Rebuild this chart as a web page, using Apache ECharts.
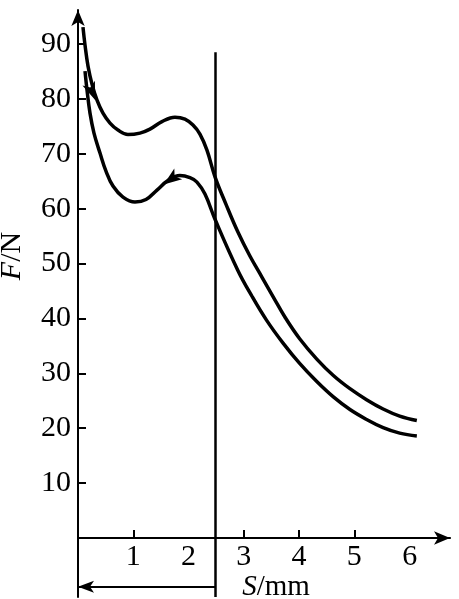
<!DOCTYPE html>
<html>
<head>
<meta charset="utf-8">
<style>html,body{margin:0;padding:0;background:#fff}#c{width:459px;height:599px}</style>
<script src="https://cdn.jsdelivr.net/npm/echarts@6/dist/echarts.min.js"></script>
</head>
<body>
<div id="c"></div>
<script>
// Upper (loading) curve: [S mm, F N]
var upperCurve = [[0.090,93.08],[0.127,89.80],[0.181,85.97],[0.253,82.70],[0.344,79.78],[0.452,77.41],[0.579,75.59],[0.723,74.32],[0.904,73.50],[1.121,73.77],[1.302,74.50],[1.519,75.87],[1.754,76.68],[1.935,76.32],[2.080,75.23],[2.206,73.59],[2.333,70.67],[2.477,65.85],[2.676,60.84],[2.893,55.74],[3.110,51.37],[3.327,47.54],[3.544,43.72],[3.743,40.26],[4.01,36.3],[4.32,32.6],[4.62,29.6],[4.92,27.2],[5.22,25.2],[5.52,23.5],[5.82,22.2],[6.13,21.4]];
// Lower (return) curve
var lowerCurve = [[0.127,85.06],[0.163,81.60],[0.217,77.41],[0.289,73.77],[0.398,70.13],[0.506,66.85],[0.633,64.12],[0.814,62.11],[1.031,61.20],[1.230,61.66],[1.429,63.39],[1.627,65.12],[1.844,66.03],[2.025,65.66],[2.152,64.85],[2.297,62.66],[2.477,58.11],[2.89,48.8],[3.15,44.0],[3.41,39.7],[3.71,35.5],[4.01,31.8],[4.32,28.5],[4.62,25.7],[4.92,23.4],[5.22,21.6],[5.52,20.1],[5.82,19.1],[6.13,18.6]];
// Direction arrows on curves: [S, F]
var upperArrowAt = [0.31, 79.8];
var lowerArrowAt = [1.55, 64.4];
// Divider line position and extent
var dividerS = 2.48;
var dividerTop = 88.5;
var dividerBottom = -10.75;
var travelArrowF = -8.9;
// Tick labels
var xLabels = [1,2,3,4,5,6];
var xTicks = [1,3,4,5];
var yLabels = [10,20,30,40,50,60,70,80,90];

var serif = '"Liberation Serif", "DejaVu Serif", serif';
var chart = echarts.init(document.getElementById('c'));
chart.setOption({
  animation: false,
  backgroundColor: '#fff',
  grid: {left: 78, top: 10, right: 9, bottom: 2, outerBoundsMode: 'none', containLabel: false},
  xAxis: {
    type: 'value', min: 0, max: 6.73, offset: -59,
    axisLine: {show: true, onZero: false, symbol: ['none','arrow'], symbolSize: [10,16], lineStyle: {color: '#000', width: 2.2}},
    axisTick: {show: true, inside: true, length: 8, customValues: xTicks, lineStyle: {color: '#000', width: 2}},
    axisLabel: {show: true, customValues: xLabels, color: '#000', fontFamily: serif, fontSize: 30, margin: 4},
    splitLine: {show: false}
  },
  yAxis: {
    type: 'value', min: dividerBottom, max: 96.2,
    axisLine: {show: true, onZero: false, symbol: ['none','arrow'], symbolSize: [10,16], lineStyle: {color: '#000', width: 2}},
    axisTick: {show: true, inside: true, length: 8, customValues: yLabels, lineStyle: {color: '#000', width: 2}},
    axisLabel: {show: true, customValues: yLabels, color: '#000', fontFamily: serif, fontSize: 30, margin: 7},
    splitLine: {show: false}
  },
  graphic: [
    {type: 'text', x: 12, y: 256, rotation: Math.PI/2,
     style: {text: '{i|F}/N', rich: {i: {fontStyle: 'italic', fontFamily: serif, fontSize: 30, fill: '#000'}}, fontFamily: serif, fontSize: 30, fill: '#000', align: 'center', verticalAlign: 'middle'}},
    {type: 'text', x: 276, y: 587,
     style: {text: '{i|S}/mm', rich: {i: {fontStyle: 'italic', fontFamily: serif, fontSize: 29, fill: '#000'}}, fontFamily: serif, fontSize: 29, fill: '#000', align: 'center', verticalAlign: 'middle'}}
  ],
  series: [
    {
      type: 'line', data: upperCurve, smooth: 0.4, symbol: 'none',
      lineStyle: {color: '#000', width: 3.5}, z: 3,
      markPoint: {
        symbol: 'arrow', symbolSize: [10,18], symbolRotate: 201, label: {show: false},
        itemStyle: {color: '#000'}, z: 5,
        data: [{coord: upperArrowAt}]
      },
      markLine: {
        silent: true, symbol: 'none', label: {show: false},
        lineStyle: {color: '#000', width: 2.5, type: 'solid'},
        data: [
          [{coord: [dividerS, dividerBottom]}, {coord: [dividerS, dividerTop]}],
          [{coord: [dividerS, travelArrowF], symbol: 'none', lineStyle: {width: 2}}, {coord: [0, travelArrowF], symbol: 'arrow', symbolSize: [9,16]}]
        ]
      }
    },
    {
      type: 'line', data: lowerCurve, smooth: 0.4, symbol: 'none',
      lineStyle: {color: '#000', width: 3.5}, z: 3,
      markPoint: {
        symbol: 'arrow', symbolSize: [10,18], symbolRotate: 126, label: {show: false},
        itemStyle: {color: '#000'}, z: 5,
        data: [{coord: lowerArrowAt}]
      }
    }
  ]
});
</script>
</body>
</html>
